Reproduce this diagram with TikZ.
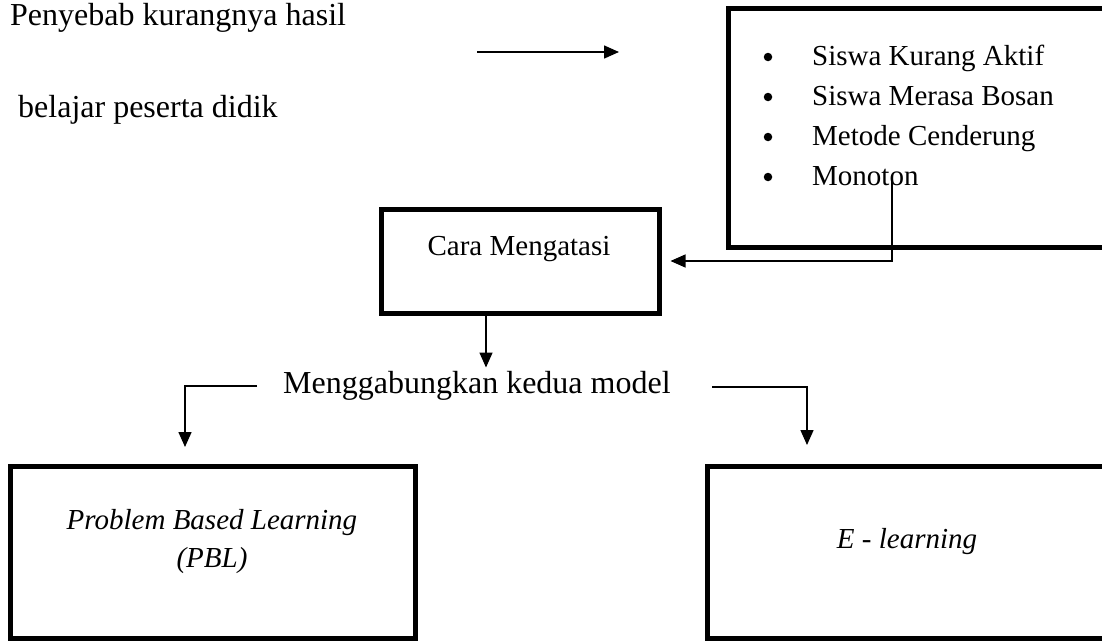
\documentclass[tikz,border=0pt]{standalone}
\usepackage{fontspec}
\setmainfont{Liberation Serif}
\usetikzlibrary{positioning}
\usetikzlibrary{arrows.meta}
\tikzset{%
  bigbox/.style = {rectangle,draw,line width=5pt,inner sep=0pt},
  flow/.style = {-{Triangle[width=13pt,length=15pt]},line width=1.5pt},
  plain/.style = {inner sep=0pt,anchor=base west,
        font=\fontsize{32}{38}\selectfont},
  item/.style = {inner sep=0pt,anchor=base west,
        font=\fontsize{29}{34}\selectfont},
  dot/.style = {circle,fill,inner sep=0pt,minimum size=8.5pt},
  boxtext/.style = {inner sep=0pt,align=center,
        font=\fontsize{29}{38}\selectfont}
}

\begin{document}
\begin{tikzpicture}[x=1pt,y=-1pt]
  \useasboundingbox (0,0) rectangle (1102,640);
  % causes
  \node[plain] (cause1) at (10,25) {Penyebab kurangnya hasil};
  \node[plain] (cause2) at (18,117) {belajar peserta didik};
  \coordinate (arrfrom) at (477,52);
  \coordinate (arrto) at (619,52);
  \draw[flow] (arrfrom) -- (arrto);
  \node[bigbox,minimum width=420pt,minimum height=239pt] (causes) at (938,127.5) {};
  \foreach \txt [count=\i] in {Siswa Kurang Aktif,Siswa Merasa Bosan,Metode Cenderung,Monoton} {
    \node[dot] (b\i) at (768,17+40*\i) {};
    \node[item] (c\i) at (812,25+40*\i) {\txt};
  }
  % solution
  \node[bigbox,minimum width=278pt,minimum height=104pt] (cara) at (520,261) {};
  \node[boxtext,anchor=base] (caratxt) at (519,255) {Cara Mengatasi};
  \coordinate (tap) at (892,178);
  \draw[flow,line width=1.2pt] (tap) |- ([xshift=9pt]cara.east);
  \draw[flow] ([xshift=-34pt]cara.south) -- ++(0,52);
  % combine
  \node[plain] (merge) at (283,393) {Menggabungkan kedua model};
  \coordinate (lstart) at (257,386);
  \coordinate (ltip) at (185,447);
  \coordinate (rstart) at (712,387);
  \coordinate (rtip) at (807,445);
  \draw[flow] (lstart) -| (ltip);
  \draw[flow] (rstart) -| (rtip);
  % models
  \node[bigbox,minimum width=405pt,minimum height=172pt] (pblbox) at (212.5,552) {};
  \node[boxtext,font=\fontsize{29}{38}\selectfont\itshape] (pbl) at (212,542) {Problem Based Learning\\(PBL)};
  \node[bigbox,minimum width=403pt,minimum height=172pt] (elbox) at (908.5,552) {};
  \node[boxtext,anchor=base,font=\fontsize{29}{38}\selectfont\itshape] (el) at (907,548) {E - learning};
\end{tikzpicture}
\end{document}
